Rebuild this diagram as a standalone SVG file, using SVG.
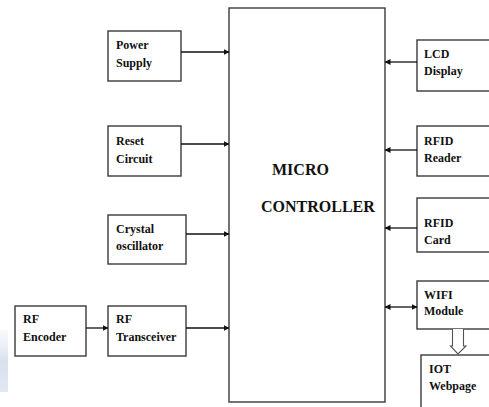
<svg xmlns="http://www.w3.org/2000/svg" width="489" height="407" viewBox="0 0 489 407">
<style>
.box{fill:#fff;stroke:#3a3a3a;stroke-width:1.4}
.lbl{font-family:"Liberation Serif",serif;font-weight:bold;font-size:12px;fill:#111}
.big{font-family:"Liberation Serif",serif;font-weight:bold;font-size:16px;fill:#111}
.con{stroke:#111;stroke-width:1.3;fill:none}
</style>
<defs>
<marker id="ah" markerWidth="6" markerHeight="6" refX="5.5" refY="3" orient="auto-start-reverse" markerUnits="userSpaceOnUse">
<path d="M0,0 L6,3 L0,6 Z" fill="#111"/>
</marker>
<linearGradient id="wm" x1="0" y1="0" x2="0" y2="1">
<stop offset="0" stop-color="#e8ecf5" stop-opacity="0.3"/>
<stop offset="0.5" stop-color="#d9e0ef"/>
<stop offset="1" stop-color="#e2e7f2"/>
</linearGradient>
</defs>
<rect x="0" y="330" width="8" height="62" fill="url(#wm)"/>
<g id="micro">
<rect class="box" x="229" y="8" width="156" height="394"/>
<text class="big" x="272" y="175">MICRO</text>
<text class="big" x="261" y="212">CONTROLLER</text>
</g>
<g id="power"><rect class="box" x="108" y="31" width="73" height="50"/><text class="lbl" x="116" y="49">Power</text><text class="lbl" x="116" y="67">Supply</text></g>
<g id="reset"><rect class="box" x="108" y="126" width="73" height="50"/><text class="lbl" x="116" y="145">Reset</text><text class="lbl" x="116" y="163">Circuit</text></g>
<g id="crystal"><rect class="box" x="108" y="215" width="78" height="49"/><text class="lbl" x="116" y="233">Crystal</text><text class="lbl" x="116" y="250">oscillator</text></g>
<g id="rftrans"><rect class="box" x="108" y="306" width="78" height="50"/><text class="lbl" x="116" y="323">RF</text><text class="lbl" x="116" y="341">Transceiver</text></g>
<g id="rfenc"><rect class="box" x="15" y="306" width="71" height="50"/><text class="lbl" x="23" y="323">RF</text><text class="lbl" x="23" y="341">Encoder</text></g>
<g id="lcd"><rect class="box" x="417" y="40" width="80" height="51"/><text class="lbl" x="424" y="58">LCD</text><text class="lbl" x="424" y="75">Display</text></g>
<g id="rfidreader"><rect class="box" x="417" y="126" width="80" height="50"/><text class="lbl" x="424" y="145">RFID</text><text class="lbl" x="424" y="162">Reader</text></g>
<g id="rfidcard"><rect class="box" x="417" y="198" width="80" height="54"/><text class="lbl" x="424" y="227">RFID</text><text class="lbl" x="424" y="244">Card</text></g>
<g id="wifi"><rect class="box" x="417" y="281" width="80" height="48"/><text class="lbl" x="424" y="299">WIFI</text><text class="lbl" x="424" y="315">Module</text></g>
<g id="iot"><rect class="box" x="421" y="355" width="80" height="60"/><text class="lbl" x="429" y="373">IOT</text><text class="lbl" x="429" y="390">Webpage</text></g>
<g id="connectors">
<line class="con" x1="181" y1="52" x2="229" y2="52" marker-end="url(#ah)"/>
<line class="con" x1="181" y1="144" x2="229" y2="144" marker-end="url(#ah)"/>
<line class="con" x1="186" y1="234" x2="229" y2="234" marker-end="url(#ah)"/>
<line class="con" x1="186" y1="328" x2="229" y2="328" marker-end="url(#ah)"/>
<line class="con" x1="86" y1="328" x2="108" y2="328" marker-end="url(#ah)"/>
<line class="con" x1="417" y1="62" x2="385" y2="62" marker-end="url(#ah)"/>
<line class="con" x1="417" y1="150" x2="385" y2="150" marker-end="url(#ah)"/>
<line class="con" x1="417" y1="228" x2="385" y2="228" marker-end="url(#ah)"/>
<line class="con" x1="385" y1="307" x2="417" y2="307" marker-start="url(#ah)" marker-end="url(#ah)"/>
<path d="M452.5,329 V346 H450.5 L458,354 L466,346 H463.5 V329" fill="#fff" stroke="#555" stroke-width="1.1"/>
</g>
</svg>
